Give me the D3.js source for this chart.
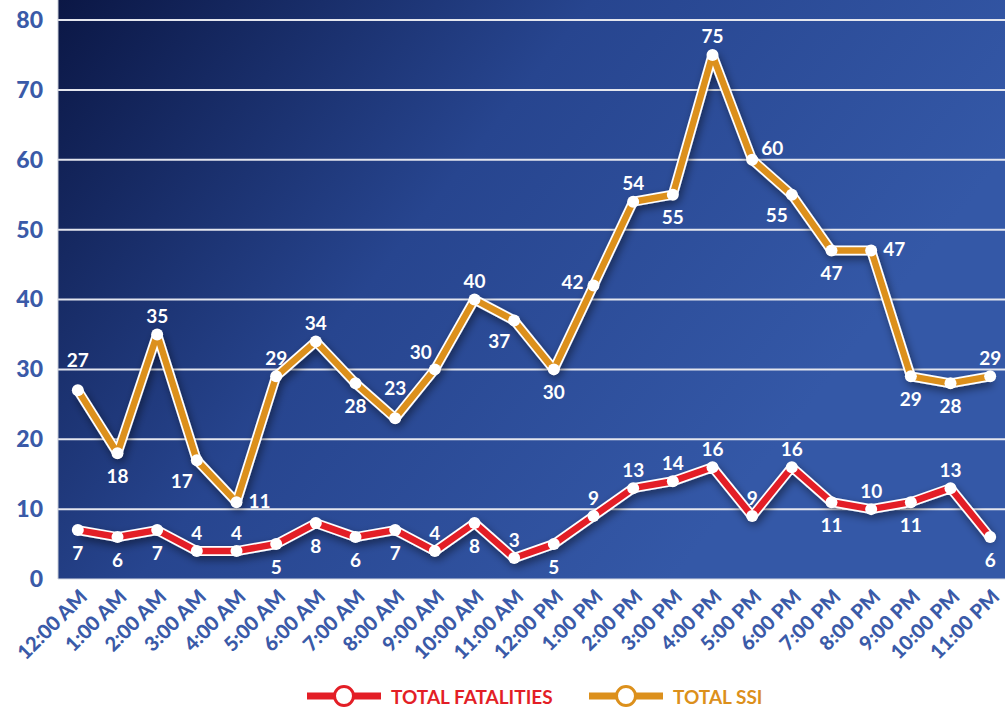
<!DOCTYPE html>
<html lang="en">
<head>
    <meta charset="UTF-8">
    <script src="https://cdn.jsdelivr.net/npm/d3@7"></script>
    <title>Fatalities and SSI by hour</title>
    <style>
        body {
            margin: 0;
            background: white;
            font-family: Lato, "Open Sans", sans-serif;
        }
        .axis text {
            font-family: Lato, sans-serif;
            font-weight: 900;
            fill: #3a5aa8;
        }
        .label {
            font-family: Lato, sans-serif;
            font-weight: bold;
            font-size: 19px;
            fill: white;
        }
    </style>
</head>
<body>
    <div id="chart"></div>
    <script>
        const hours = ["12:00 AM", "1:00 AM", "2:00 AM", "3:00 AM", "4:00 AM", "5:00 AM",
            "6:00 AM", "7:00 AM", "8:00 AM", "9:00 AM", "10:00 AM", "11:00 AM",
            "12:00 PM", "1:00 PM", "2:00 PM", "3:00 PM", "4:00 PM", "5:00 PM",
            "6:00 PM", "7:00 PM", "8:00 PM", "9:00 PM", "10:00 PM", "11:00 PM"];
        const fatalities = [7, 6, 7, 4, 4, 5, 8, 6, 7, 4, 8, 3, 5, 9, 13, 14, 16, 9, 16, 11, 10, 11, 13, 6];
        const ssi = [27, 18, 35, 17, 11, 29, 34, 28, 23, 30, 40, 37, 30, 42, 54, 55, 75, 60, 55, 47, 47, 29, 28, 29];
        const yTicks = [0, 10, 20, 30, 40, 50, 60, 70, 80];

        // where each data label sits relative to its point
        const fatalLabelPos = ["below", "below", "below", "above", "above", "below", "below", "below",
            "below", "above", "below", "above", "below", "above", "above", "above", "above", "above",
            "above", "below", "above", "below", "above", "below"];
        const ssiLabelPos = ["high", "below", "above", "belowLeft", "right", "above", "above", "below",
            "high", "aboveLeft", "above", "belowLeft", "below", "left", "above", "below", "above",
            "aboveRight", "belowLeft", "below", "right", "below", "below", "above"];

        const offsets = {
            above: [0, -19], below: [0, 22], left: [-21, -4], right: [23, -2],
            high: [0, -31], aboveLeft: [-14, -18], belowLeft: [-15, 20], aboveRight: [20, -12]
        };

        const width = 1005, height = 708;
        const plot = { left: 58, right: 1010, top: 0, bottom: 579 };

        const svg = d3.select("#chart").append("svg")
            .attr("width", width)
            .attr("height", height);

        const defs = svg.append("defs");
        const grad = defs.append("linearGradient")
            .attr("id", "bg")
            .attr("gradientUnits", "userSpaceOnUse")
            .attr("x1", 58).attr("y1", 0)
            .attr("x2", 720).attr("y2", 520);
        grad.append("stop").attr("offset", 0).attr("stop-color", "#0b1745");
        grad.append("stop").attr("offset", 0.5).attr("stop-color", "#27458f");
        grad.append("stop").attr("offset", 1).attr("stop-color", "#3458a7");

        const shadow = defs.append("filter").attr("id", "shadow")
            .attr("x", "-10%").attr("y", "-10%").attr("width", "120%").attr("height", "130%");
        shadow.append("feDropShadow")
            .attr("dx", 2).attr("dy", 4)
            .attr("stdDeviation", 4)
            .attr("flood-color", "#000")
            .attr("flood-opacity", 0.45);

        const x = d3.scalePoint()
            .domain(hours)
            .range([plot.left, plot.right])
            .padding(0.5);

        const y = d3.scaleLinear()
            .domain([0, 80])
            .range([plot.bottom, 20]);

        svg.append("rect")
            .attr("x", plot.left)
            .attr("y", plot.top)
            .attr("width", plot.right - plot.left)
            .attr("height", plot.bottom - plot.top)
            .attr("fill", "url(#bg)");

        // gridlines
        svg.append("g")
            .selectAll("line")
            .data(yTicks.filter(d => d > 0))
            .enter().append("line")
            .attr("x1", plot.left)
            .attr("x2", plot.right)
            .attr("y1", d => y(d))
            .attr("y2", d => y(d))
            .attr("stroke", "#e4e6ee")
            .attr("stroke-width", 2);

        svg.append("line")
            .attr("x1", plot.left).attr("x2", plot.left)
            .attr("y1", plot.top).attr("y2", plot.bottom)
            .attr("stroke", "#c8ccd6").attr("stroke-width", 1);
        svg.append("line")
            .attr("x1", plot.left).attr("x2", plot.right)
            .attr("y1", plot.bottom).attr("y2", plot.bottom)
            .attr("stroke", "#d8dbe3").attr("stroke-width", 1);

        // y axis
        const yAxis = svg.append("g")
            .attr("class", "axis")
            .attr("transform", `translate(${plot.left},0)`)
            .call(d3.axisLeft(y).tickValues(yTicks).tickSize(0).tickPadding(15));
        yAxis.select(".domain").remove();
        yAxis.selectAll("text").style("font-size", "23px");

        // x axis
        const xAxis = svg.append("g")
            .attr("class", "axis")
            .attr("transform", `translate(0,${plot.bottom})`)
            .call(d3.axisBottom(x).tickSize(0));
        xAxis.select(".domain").remove();
        xAxis.selectAll("text")
            .style("font-size", "20px")
            .attr("text-anchor", "end")
            .attr("dy", "0.35em")
            .attr("transform", "translate(3,12) rotate(-45)");

        const line = d3.line()
            .x((d, i) => x(hours[i]))
            .y(d => y(d));

        const drawSeries = (values, color, labelPos) => {
            const g = svg.append("g");
            g.append("path")
                .datum(values)
                .attr("d", line)
                .attr("fill", "none")
                .attr("stroke", "white")
                .attr("stroke-width", 10)
                .attr("stroke-linejoin", "round")
                .attr("filter", "url(#shadow)");
            g.append("path")
                .datum(values)
                .attr("d", line)
                .attr("fill", "none")
                .attr("stroke", color)
                .attr("stroke-width", 6.5)
                .attr("stroke-linejoin", "round");
            g.selectAll("circle")
                .data(values)
                .enter().append("circle")
                .attr("cx", (d, i) => x(hours[i]))
                .attr("cy", d => y(d))
                .attr("r", 6)
                .attr("fill", "white");
            g.selectAll("text")
                .data(values)
                .enter().append("text")
                .attr("class", "label")
                .attr("x", (d, i) => x(hours[i]) + offsets[labelPos[i]][0])
                .attr("y", (d, i) => y(d) + offsets[labelPos[i]][1])
                .attr("text-anchor", "middle")
                .attr("dominant-baseline", "central")
                .text(d => d);
        };

        drawSeries(ssi, "#dc901c", ssiLabelPos);
        drawSeries(fatalities, "#e31e26", fatalLabelPos);

        // legend
        const legendItems = [
            { name: "TOTAL FATALITIES", color: "#e31e26", x: 307 },
            { name: "TOTAL SSI", color: "#dc901c", x: 589 }
        ];
        const legend = svg.append("g").attr("transform", "translate(0,696)");
        legendItems.forEach(item => {
            legend.append("line")
                .attr("x1", item.x).attr("x2", item.x + 74)
                .attr("y1", 0).attr("y2", 0)
                .attr("stroke", item.color)
                .attr("stroke-width", 7);
            legend.append("circle")
                .attr("cx", item.x + 37).attr("cy", 0)
                .attr("r", 9.5)
                .attr("fill", "white")
                .attr("stroke", item.color)
                .attr("stroke-width", 3);
            legend.append("text")
                .attr("x", item.x + 84)
                .attr("y", 0)
                .attr("dominant-baseline", "central")
                .style("font-family", "Lato, sans-serif")
                .style("font-weight", "bold")
                .style("font-size", "19px")
                .attr("fill", item.color)
                .text(item.name);
        });
    </script>
</body>
</html>
